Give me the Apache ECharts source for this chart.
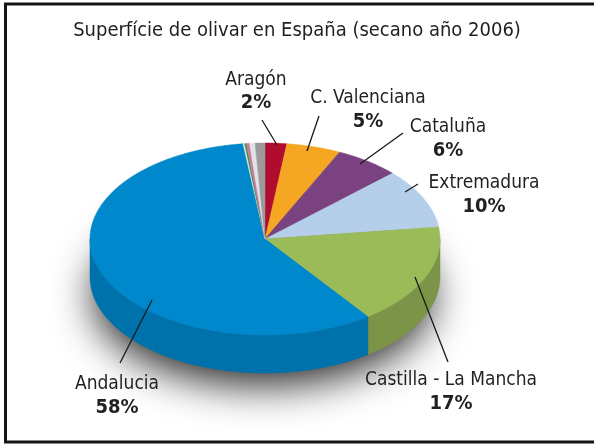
<!DOCTYPE html>
<html>
<head>
<meta charset="utf-8">
<title>Superficie de olivar</title>
<script src="https://cdn.jsdelivr.net/npm/echarts@6/dist/echarts.min.js"></script>
<style>
  html, body { margin: 0; padding: 0; background: #fff; }
  #chart { width: 594px; height: 444px; }
</style>
</head>
<body>
<div id="chart"></div>
<script>
// datos (orden horario desde las 12)
var categories = ['Aragón', 'C. Valenciana', 'Cataluña', 'Extremadura', 'Castilla - La Mancha', 'Andalucia', '', '', '', '', ''];
var values = [2, 5, 6, 10, 17, 58, 0.15, 0.15, 0.3, 0.5, 0.9];
var pctLabels = ['2%', '5%', '6%', '10%', '17%', '58%'];

var colors = ['#b00d2e', '#f5a623', '#7a4280', '#b5cfea', '#9bbb59', '#0088cc', '#e9e7da', '#3b8f3b', '#c97aa5', '#e2e2e4', '#9b9b9e'];
var sideColors = ['#8a0a24', '#c9861a', '#5e3263', '#8fa6be', '#7b9447', '#0072ab', '#c0beb2', '#2d6f2d', '#a3628a', '#bdbdbf', '#7d7d80'];

// posiciones de etiquetas: [x, yNombre, yPct, x1, y1, x2, y2]
var labelPos = [
  [256, 80, 103, 262, 120, 277, 145],
  [368, 98, 122, 319, 116, 307, 151],
  [448, 127, 151, 403, 133, 360, 164],
  [484, 183, 207, 418, 184, 405, 192],
  [451, 380, 404, 415, 277, 448, 362],
  [117, 384, 408, 152, 300, 120, 363]
];

var FONT = '"Liberation Sans Narrow", "DejaVu Sans Condensed", sans-serif';
var cx = 265, cy = 239, rx = 175, ry = 96, depth = 38;

var total = values.reduce(function (a, b) { return a + b; }, 0);
var starts = [], acc = 0;
values.forEach(function (v) { starts.push(acc / total * 360); acc += v; });

function pt(deg, dy) {
  var r = deg * Math.PI / 180;
  return [cx + rx * Math.sin(r), cy - ry * Math.cos(r) + (dy || 0)];
}
function arc(a0, a1, dy) {
  var pts = [], n = Math.max(2, Math.ceil((a1 - a0) / 0.5));
  for (var k = 0; k <= n; k++) pts.push(pt(a0 + (a1 - a0) * k / n, dy));
  return pts;
}

function renderItem(params, api) {
  var i = params.dataIndex;
  var a0 = starts[i], a1 = a0 + api.value(0) / total * 360;
  var children = [];
  // cara lateral (solo la mitad delantera: 90..270)
  var s0 = Math.max(a0, 90), s1 = Math.min(a1, 270);
  if (s1 > s0) {
    var top = arc(s0, s1, 0), bot = arc(s0, s1, depth).reverse();
    children.push({
      type: 'polygon', z2: 1,
      shape: { points: top.concat(bot) },
      style: { fill: sideColors[i], stroke: sideColors[i], lineWidth: 0.5 }
    });
  }
  children.push({
    type: 'polygon', z2: 5,
    shape: { points: [[cx, cy]].concat(arc(a0, a1, 0)) },
    style: { fill: colors[i], stroke: colors[i], lineWidth: 0.5 }
  });
  var lp = labelPos[i];
  if (lp) {
    children.push({
      type: 'line', z2: 10,
      shape: { x1: lp[3], y1: lp[4], x2: lp[5], y2: lp[6] },
      style: { stroke: '#1a1a1a', lineWidth: 1.3 }
    });
    children.push({
      type: 'text', z2: 10, x: lp[0], y: lp[1],
      style: { text: categories[i], fill: '#231f20', font: 'normal 19px ' + FONT, align: 'center', verticalAlign: 'middle' }
    });
    children.push({
      type: 'text', z2: 10, x: lp[0], y: lp[2],
      style: { text: pctLabels[i], fill: '#231f20', font: 'bold 20px ' + FONT, align: 'center', verticalAlign: 'middle' }
    });
  }
  return { type: 'group', children: children };
}

var chart = echarts.init(document.getElementById('chart'));
chart.setOption({
  backgroundColor: '#fff',
  animation: false,
  title: {
    text: 'Superfície de olivar en España (secano año 2006)',
    left: 'center', top: 16,
    textStyle: { fontSize: 20, fontWeight: 'normal', color: '#231f20', fontFamily: FONT }
  },
  graphic: [
    {
      type: 'rect', z: -10, silent: true,
      shape: { x: 5.5, y: 4, width: 600, height: 438 },
      style: { fill: 'none', stroke: '#151515', lineWidth: 3 }
    },
    {
      type: 'ellipse', z: 0, silent: true,
      shape: { cx: cx - 2, cy: cy + depth + 4, rx: rx - 6, ry: ry - 6 },
      style: { fill: '#666', shadowBlur: 40, shadowColor: 'rgba(0,0,0,0.85)', shadowOffsetY: 14, shadowOffsetX: 0 }
    }
  ],
  series: [{
    type: 'custom',
    coordinateSystem: 'none',
    z: 5,
    renderItem: renderItem,
    data: values.map(function (v) { return [v]; })
  }]
});
</script>
</body>
</html>
